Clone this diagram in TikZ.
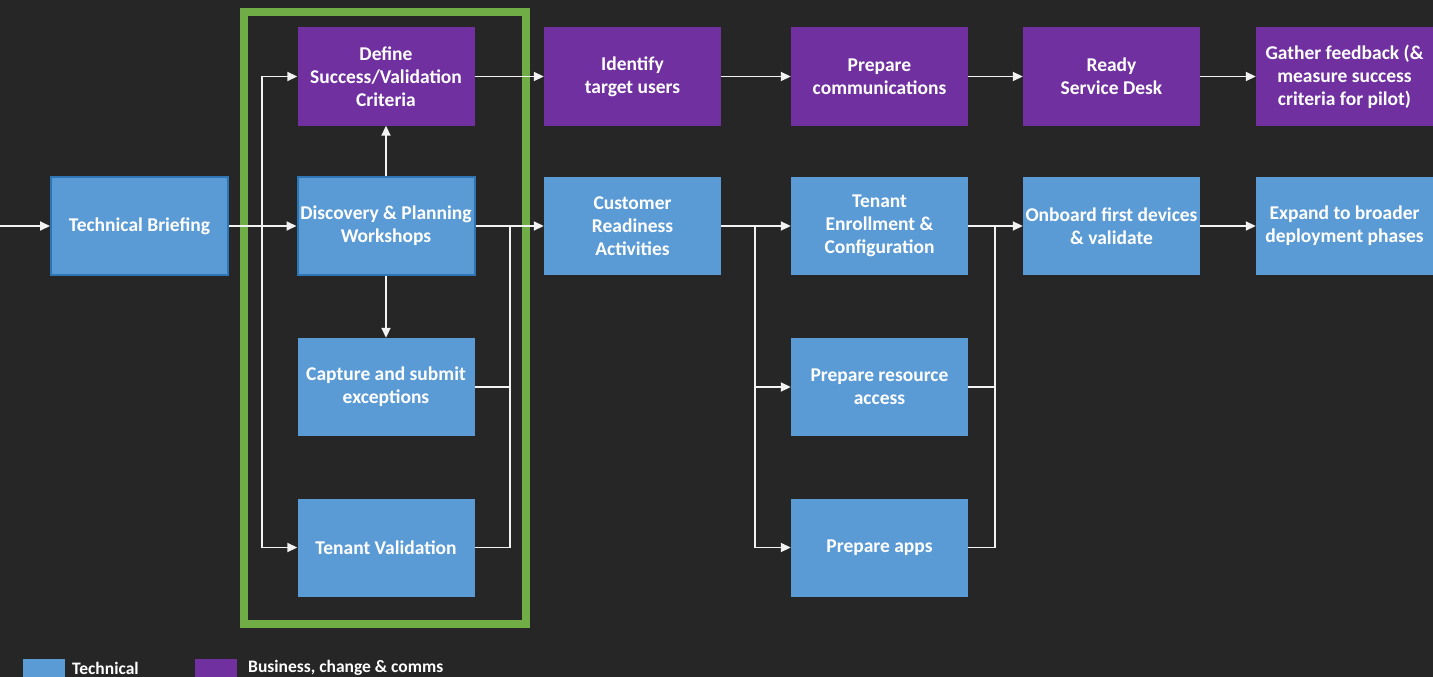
\documentclass[tikz,border=0pt]{standalone}
\usepackage{fontspec}
\setmainfont{Carlito}
\usetikzlibrary{arrows.meta}
\definecolor{bg}{HTML}{262626}
\definecolor{techblue}{HTML}{5B9BD5}
\definecolor{techborder}{HTML}{2E75B6}
\definecolor{bizpurple}{HTML}{7030A0}
\definecolor{framegreen}{HTML}{70AD47}
\definecolor{linecol}{HTML}{F2F2F2}
\tikzset{
  box/.style={rectangle, minimum width=177pt, minimum height=98pt, inner sep=0pt,
    align=center, text=white, font=\bfseries\fontsize{19.5}{23}\selectfont},
  tech/.style={box, fill=techblue},
  techb/.style={box, fill=techblue, draw=techborder, line width=2pt},
  biz/.style={box, fill=bizpurple},
  conn/.style={draw=linecol, line width=1.8pt, -{Triangle[length=10pt,width=9pt]}},
  plain/.style={draw=linecol, line width=1.8pt},
  legendbox/.style={rectangle, minimum width=42pt, minimum height=18pt, inner sep=0pt},
  legendtext/.style={anchor=west, text=white, inner sep=0pt, font=\bfseries\fontsize{17.5}{19}\selectfont}
}
\begin{document}
\begin{tikzpicture}[x=1pt,y=-1pt]
\fill[bg] (0,0) rectangle (1433,677);
\useasboundingbox (0,0) rectangle (1433,677);
% green frame
\draw[framegreen, line width=8pt] (244,12) rectangle (526,624);
% nodes
\node[techb] (tb) at (139.5,226) {Technical Briefing};
\node[biz] (def) at (386,76.5) {Define\\Success/Validation\\Criteria};
\node[techb] (disc) at (386,226) {Discovery \& Planning\\Workshops};
\node[tech] (cap) at (386,387) {Capture and submit\\exceptions};
\node[tech] (tv) at (386,547.5) {Tenant Validation};
\node[biz] (iden) at (632.5,76.5) {Identify\\target users};
\node[biz] (comm) at (879.5,76.5) {Prepare\\communications};
\node[biz] (ready) at (1111.5,76.5) {Ready\\Service Desk};
\node[biz] (gath) at (1344.5,76.5) {Gather feedback (\&\\measure success\\criteria for pilot)};
\node[tech] (cust) at (632.5,226) {Customer\\Readiness\\Activities};
\node[tech] (enr) at (879.5,226) {Tenant\\Enrollment \&\\Configuration};
\node[tech] (res) at (879.5,387) {Prepare resource\\access};
\node[tech] (apps) at (879.5,547.5) {Prepare apps};
\node[tech] (onb) at (1111.5,226) {Onboard first devices\\\& validate};
\node[tech] (exp) at (1344.5,226) {Expand to broader\\deployment phases};
% coordinates
\coordinate (start) at (0,226);
\coordinate (b1) at (262,226);
\coordinate (m1) at (510,226);
\coordinate (b2) at (755,226);
\coordinate (m2) at (995,226);
% connectors
\draw[conn] (start) -- (tb.west);
\draw[conn] (tb.east) -- (disc.west);
\draw[conn] (b1) |- (def.west);
\draw[conn] (b1) |- (tv.west);
\draw[conn] (disc.north) -- (def.south);
\draw[conn] (disc.south) -- (cap.north);
\draw[conn] (def.east) -- (iden.west);
\draw[conn] (disc.east) -- (cust.west);
\draw[plain] (cap.east) -| (m1);
\draw[plain] (tv.east) -| (m1);
\draw[conn] (iden.east) -- (comm.west);
\draw[conn] (comm.east) -- (ready.west);
\draw[conn] (ready.east) -- (gath.west);
\draw[conn] (cust.east) -- (enr.west);
\draw[conn] (b2) |- (res.west);
\draw[conn] (b2) |- (apps.west);
\draw[conn] (enr.east) -- (onb.west);
\draw[plain] (res.east) -| (m2);
\draw[plain] (apps.east) -| (m2);
\draw[conn] (onb.east) -- (exp.west);
% legend
\node[legendbox, fill=techblue] (lg1) at (44,668) {};
\node[legendtext] (lt1) at (72,668) {Technical};
\node[legendbox, fill=bizpurple] (lg2) at (216,668) {};
\node[legendtext] (lt2) at (248,668) {Business, change \& comms};
\end{tikzpicture}
\end{document}
